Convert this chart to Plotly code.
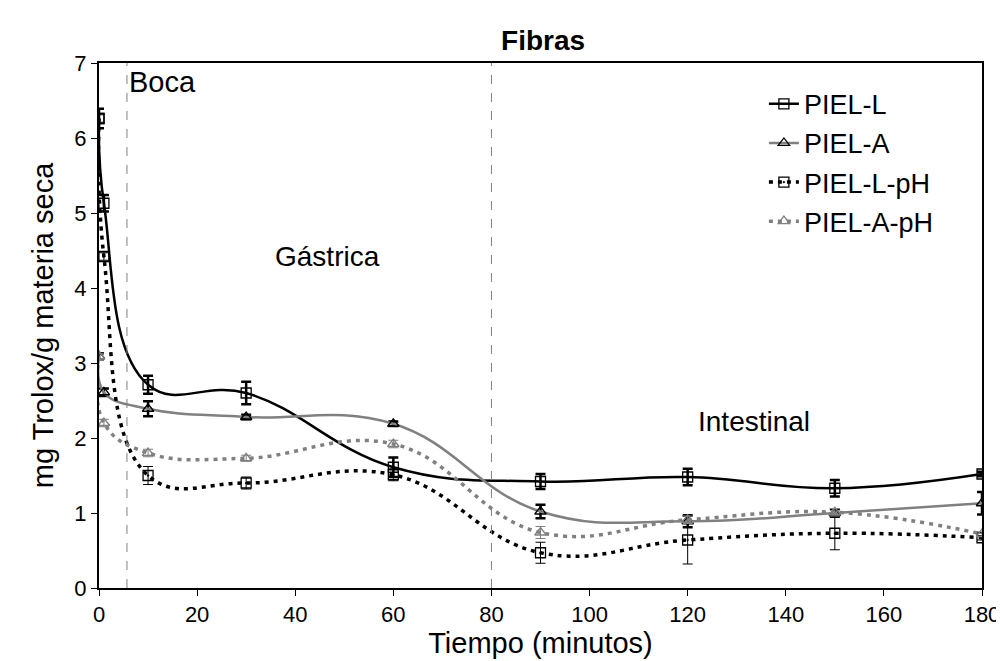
import plotly.graph_objects as go

tiempo = [0, 1, 10, 30, 60, 90, 120, 150, 180]
piel_l = [6.26, 5.13, 2.71, 2.60, 1.61, 1.42, 1.48, 1.33, 1.52]
piel_l_err = [0.13, 0.11, 0.12, 0.15, 0.13, 0.10, 0.11, 0.11, 0.03]
piel_a = [3.09, 2.61, 2.39, 2.28, 2.19, 1.02, 0.89, 1.00, 1.13]
piel_a_err = [0.04, 0.05, 0.10, 0.03, 0.03, 0.09, 0.08, 0.05, 0.15]
piel_l_ph = [6.26, 4.42, 1.50, 1.40, 1.51, 0.47, 0.64, 0.73, 0.67]
piel_l_ph_err = [0.05, 0.05, 0.12, 0.08, 0.08, 0.14, 0.32, 0.22, 0.03]
piel_a_ph = [3.09, 2.20, 1.80, 1.73, 1.92, 0.74, 0.91, 1.01, 0.72]
piel_a_ph_err = [0.04, 0.05, 0.05, 0.04, 0.05, 0.08, 0.05, 0.05, 0.03]

FONT = "Liberation Sans, Arial, sans-serif"
GREY = "#808080"

fig = go.Figure()

def add(name, y, err, color, dash, width, symbol, mcolor, ethick, ecolor):
    fig.add_trace(go.Scatter(
        x=tiempo, y=y, name=name, mode="lines+markers", legendgroup=name,
        line=dict(color=color, width=width, dash=dash, shape="spline", smoothing=1.2),
        marker=dict(symbol=symbol, size=10, color=mcolor, line=dict(color=mcolor, width=1.3)),
        error_y=dict(type="data", array=err, visible=True, color=ecolor,
                     thickness=ethick, width=5),
    ))

add("PIEL-L", piel_l, piel_l_err, "black", "solid", 2.5, "square-open", "black", 2.5, "black")
add("PIEL-A", piel_a, piel_a_err, GREY, "solid", 2.5, "triangle-up-open", "black", 2.5, "black")
add("PIEL-L-pH", piel_l_ph, piel_l_ph_err, "black", "4px,5px", 3.5, "square-open-dot", "black", 1, "black")
add("PIEL-A-pH", piel_a_ph, piel_a_ph_err, GREY, "4px,5px", 3.5, "triangle-up-open", GREY, 1, GREY)

for xv in [5.7, 80]:
    fig.add_shape(type="line", x0=xv, x1=xv, y0=0, y1=7, xref="x", yref="y",
                  line=dict(color=GREY, width=1, dash="dash"))

for txt, xv, yv, sz in [("Boca", 5.8, 6.75, 29), ("Gástrica", 46.5, 4.42, 28), ("Intestinal", 133.5, 2.22, 28)]:
    fig.add_annotation(x=xv, y=yv, text=txt, showarrow=False,
                       xanchor="left" if txt == "Boca" else "center",
                       font=dict(family=FONT, size=sz, color="black"))

fig.update_layout(
    width=1004, height=661,
    paper_bgcolor="white", plot_bgcolor="white",
    margin=dict(l=91, r=24, t=55, b=81),
    title=dict(text="<b>Fibras</b>", x=0.533, xanchor="center", y=0.952, yanchor="middle",
               font=dict(family=FONT, size=28, color="black")),
    font=dict(family=FONT, color="black"),
    showlegend=True,
    legend=dict(x=0.753, y=0.968, xanchor="left", yanchor="top",
                font=dict(family=FONT, size=27, color="black"),
                bgcolor="rgba(0,0,0,0)", tracegroupgap=1, traceorder="grouped"),
    xaxis=dict(range=[0, 180], tickmode="array", tickvals=list(range(0, 181, 20)),
               showgrid=False, zeroline=False, showline=True, linecolor="black",
               linewidth=2, mirror=True, ticks="outside", ticklen=6, tickcolor="black",
               tickfont=dict(family=FONT, size=22),
               title=dict(text="Tiempo (minutos)", font=dict(family=FONT, size=29), standoff=2)),
    yaxis=dict(range=[0, 7], tickmode="array", tickvals=list(range(0, 8)),
               showgrid=False, zeroline=False, showline=True, linecolor="black",
               linewidth=2, mirror=True, ticks="outside", ticklen=6, tickcolor="black",
               tickfont=dict(family=FONT, size=22),
               title=dict(text="mg Trolox/g materia seca", font=dict(family=FONT, size=29), standoff=12)),
)

fig.write_html("out.html")
